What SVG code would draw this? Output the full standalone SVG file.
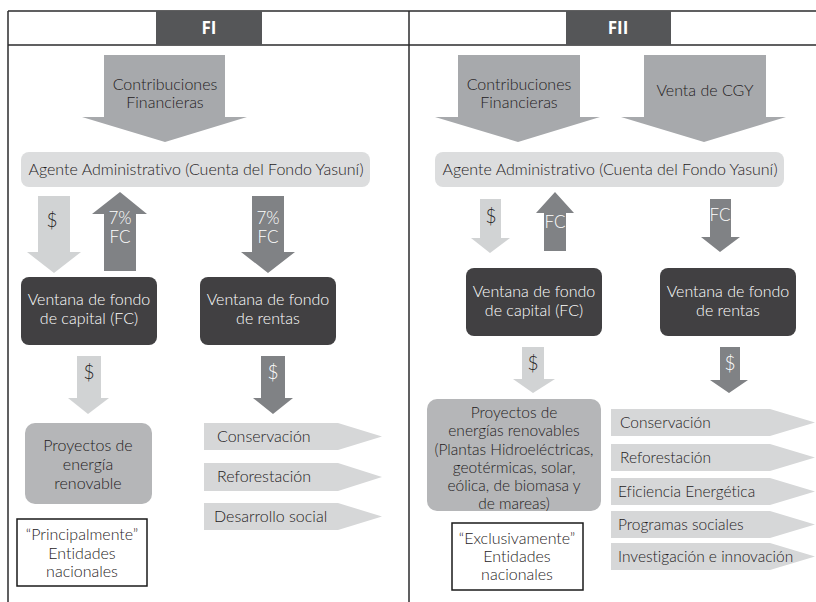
<svg xmlns="http://www.w3.org/2000/svg" width="816" height="602" viewBox="0 0 816 602">
<style>
text{font-family:Lato,"Open Sans","Liberation Sans",sans-serif;font-size:16px;font-weight:300;fill:#1f1c1d;font-variant-ligatures:none}
.w{fill:#ffffff}
.c{text-anchor:middle}
.d{font-size:19px}
.p{font-size:17px}
.s{font-size:15.5px}
.h{font-family:"Open Sans",sans-serif;font-weight:bold;font-size:17px;fill:#ffffff;text-anchor:middle}
.frame{stroke:#2b2b2c;stroke-width:1.5;fill:none}
.hdr{fill:#555658}
.big{fill:#a7a9ac}
.lt{fill:#d1d3d4}
.md{fill:#808285}
.agent{fill:#dcddde}
.dark{fill:#414042}
.proj{fill:#b5b6b8}
.note{fill:#ffffff;stroke:#1a1a1a;stroke-width:1.5}
.pent{fill:#d6d7d8}
</style>
<rect width="816" height="602" fill="#ffffff"/>
<g id="frame">
<line class="frame" x1="8" y1="11" x2="816" y2="11"/>
<line class="frame" x1="8" y1="45" x2="816" y2="45"/>
<line class="frame" x1="8" y1="11" x2="8" y2="602"/>
<line class="frame" x1="409" y1="11" x2="409" y2="602"/>
</g>
<g id="header-FI"><rect class="hdr" x="156" y="11" width="106" height="34"/><text class="h" x="209" y="34">FI</text></g>
<g id="header-FII"><rect class="hdr" x="566" y="11" width="105" height="34"/><text class="h" x="618" y="34">FII</text></g>

<g id="connectors">
<g id="fi-contrib"><polygon class="big" points="104,55 225,55 225,117 247,117 165,142 82,117 104,117"/><text class="c" x="165" y="90">Contribuciones</text><text class="c" x="165" y="108">Financieras</text></g>
<g id="fii-contrib"><polygon class="big" points="458,55 580,55 580,117 600,117 518,142 435,117 458,117"/><text class="c" x="519" y="90">Contribuciones</text><text class="c" x="519" y="108">Financieras</text></g>
<g id="fii-cgy"><polygon class="big" points="644,55 766,55 766,117 786,117 704,142 621,117 644,117"/><text class="c" x="705" y="96">Venta de CGY</text></g>

<g id="fi-a1"><polygon class="lt" points="38,196 70,196 70,252 81,252 54,273 27,252 38,252"/><text class="c d" x="52" y="227">$</text></g>
<g id="fi-a2"><polygon class="md" points="104,271 136,271 136,214 147,214 120,192 92,214 104,214"/><text class="c w p" x="120" y="224">7%</text><text class="c w p" x="120" y="243">FC</text></g>
<g id="fi-a3"><polygon class="md" points="252,196 284,196 284,252 295,252 268,273 241,252 252,252"/><text class="c w p" x="268" y="224">7%</text><text class="c w p" x="268" y="243">FC</text></g>
<g id="fi-a4"><polygon class="lt" points="77,356 101,356 101,398 109,398 88,414 68,398 77,398"/><text class="c d" x="89" y="379">$</text></g>
<g id="fi-a5"><polygon class="md" points="261,356 285,356 285,398 293,398 273,414 253,398 261,398"/><text class="c w d" x="273" y="379">$</text></g>

<g id="fii-a1"><polygon class="lt" points="480,199 501,199 501,238 510,238 490,253 471,238 480,238"/><text class="c d" x="491" y="223">$</text></g>
<g id="fii-a2"><polygon class="md" points="544,251 566,251 566,213 574,213 555,192 536,213 544,213"/><text class="c w p" x="555" y="228">FC</text></g>
<g id="fii-a3"><polygon class="md" points="710,199 731,199 731,237 740,237 720,252 701,237 710,237"/><text class="c w p" x="720" y="221">FC</text></g>
<g id="fii-a4"><polygon class="lt" points="522,347 544,347 544,379 555,379 533,393 513,379 522,379"/><text class="c d" x="533" y="370">$</text></g>
<g id="fii-a5"><polygon class="md" points="720,347 740,347 740,380 748,380 729,393 710,380 720,380"/><text class="c w d" x="730" y="370">$</text></g>
</g>

<g id="fi-agente"><rect class="agent" x="21" y="152" width="349" height="35" rx="8"/><text class="c" x="196" y="175">Agente Administrativo (Cuenta del Fondo Yasuní)</text></g>
<g id="fii-agente"><rect class="agent" x="435" y="152" width="349" height="35" rx="8"/><text class="c" x="610" y="175">Agente Administrativo (Cuenta del Fondo Yasuní)</text></g>

<g id="fi-capital"><rect class="dark" x="21" y="277" width="136" height="68" rx="8"/><text class="c w" x="89" y="305">Ventana de fondo</text><text class="c w" x="89" y="324">de capital (FC)</text></g>
<g id="fi-rentas"><rect class="dark" x="200" y="277" width="136" height="68" rx="8"/><text class="c w" x="268" y="305">Ventana de fondo</text><text class="c w" x="268" y="324">de rentas</text></g>
<g id="fii-capital"><rect class="dark" x="466" y="268" width="136" height="68" rx="8"/><text class="c w" x="534" y="297">Ventana de fondo</text><text class="c w" x="534" y="316">de capital (FC)</text></g>
<g id="fii-rentas"><rect class="dark" x="660" y="268" width="136" height="68" rx="8"/><text class="c w" x="728" y="297">Ventana de fondo</text><text class="c w" x="728" y="316">de rentas</text></g>

<g id="fi-proyectos"><rect class="proj" x="25" y="423" width="127" height="81" rx="10"/><text class="c" x="88" y="451">Proyectos de</text><text class="c" x="88" y="470">energía</text><text class="c" x="88" y="489">renovable</text></g>
<g id="fi-nota"><rect class="note" x="17" y="519" width="130" height="67"/><text class="c" x="82" y="540">“Principalmente”</text><text class="c" x="82" y="559">Entidades</text><text class="c" x="82" y="577">nacionales</text></g>
<g id="fii-proyectos"><rect class="proj" x="427" y="399" width="174" height="112" rx="10"/><text class="c s" x="514" y="418">Proyectos de</text><text class="c s" x="514" y="436">energías renovables</text><text class="c s" x="514" y="455">(Plantas Hidroeléctricas,</text><text class="c s" x="514" y="473">geotérmicas, solar,</text><text class="c s" x="514" y="491">eólica, de biomasa y</text><text class="c s" x="514" y="509">de mareas)</text></g>
<g id="fii-nota"><rect class="note" x="452" y="523" width="131" height="67"/><text class="c" x="517" y="544">“Exclusivamente”</text><text class="c" x="517" y="562">Entidades</text><text class="c" x="517" y="580">nacionales</text></g>

<g id="fi-conservacion"><polygon class="pent" points="204,423 338,423 382,436.5 338,450 204,450"/><text x="217" y="442">Conservación</text></g>
<g id="fi-reforestacion"><polygon class="pent" points="204,463 338,463 382,477 338,491 204,491"/><text x="217" y="482">Reforestación</text></g>
<g id="fi-desarrollo"><polygon class="pent" points="204,503 338,503 382,516.5 338,530 204,530"/><text x="214" y="522">Desarrollo social</text></g>

<g id="fii-conservacion"><polygon class="pent" points="611,409 770,409 815,422.5 770,436 611,436"/><text class="s" x="620" y="428">Conservación</text></g>
<g id="fii-reforestacion"><polygon class="pent" points="611,444 770,444 815,457.5 770,471 611,471"/><text class="s" x="620" y="463">Reforestación</text></g>
<g id="fii-eficiencia"><polygon class="pent" points="611,478 770,478 815,491.5 770,505 611,505"/><text class="s" x="618" y="497">Eficiencia Energética</text></g>
<g id="fii-programas"><polygon class="pent" points="611,511 770,511 815,524.5 770,538 611,538"/><text class="s" x="618" y="530">Programas sociales</text></g>
<g id="fii-investigacion"><polygon class="pent" points="611,543 770,543 815,556.5 770,570 611,570"/><text class="s" x="618" y="562">Investigación e innovación</text></g>
</svg>
